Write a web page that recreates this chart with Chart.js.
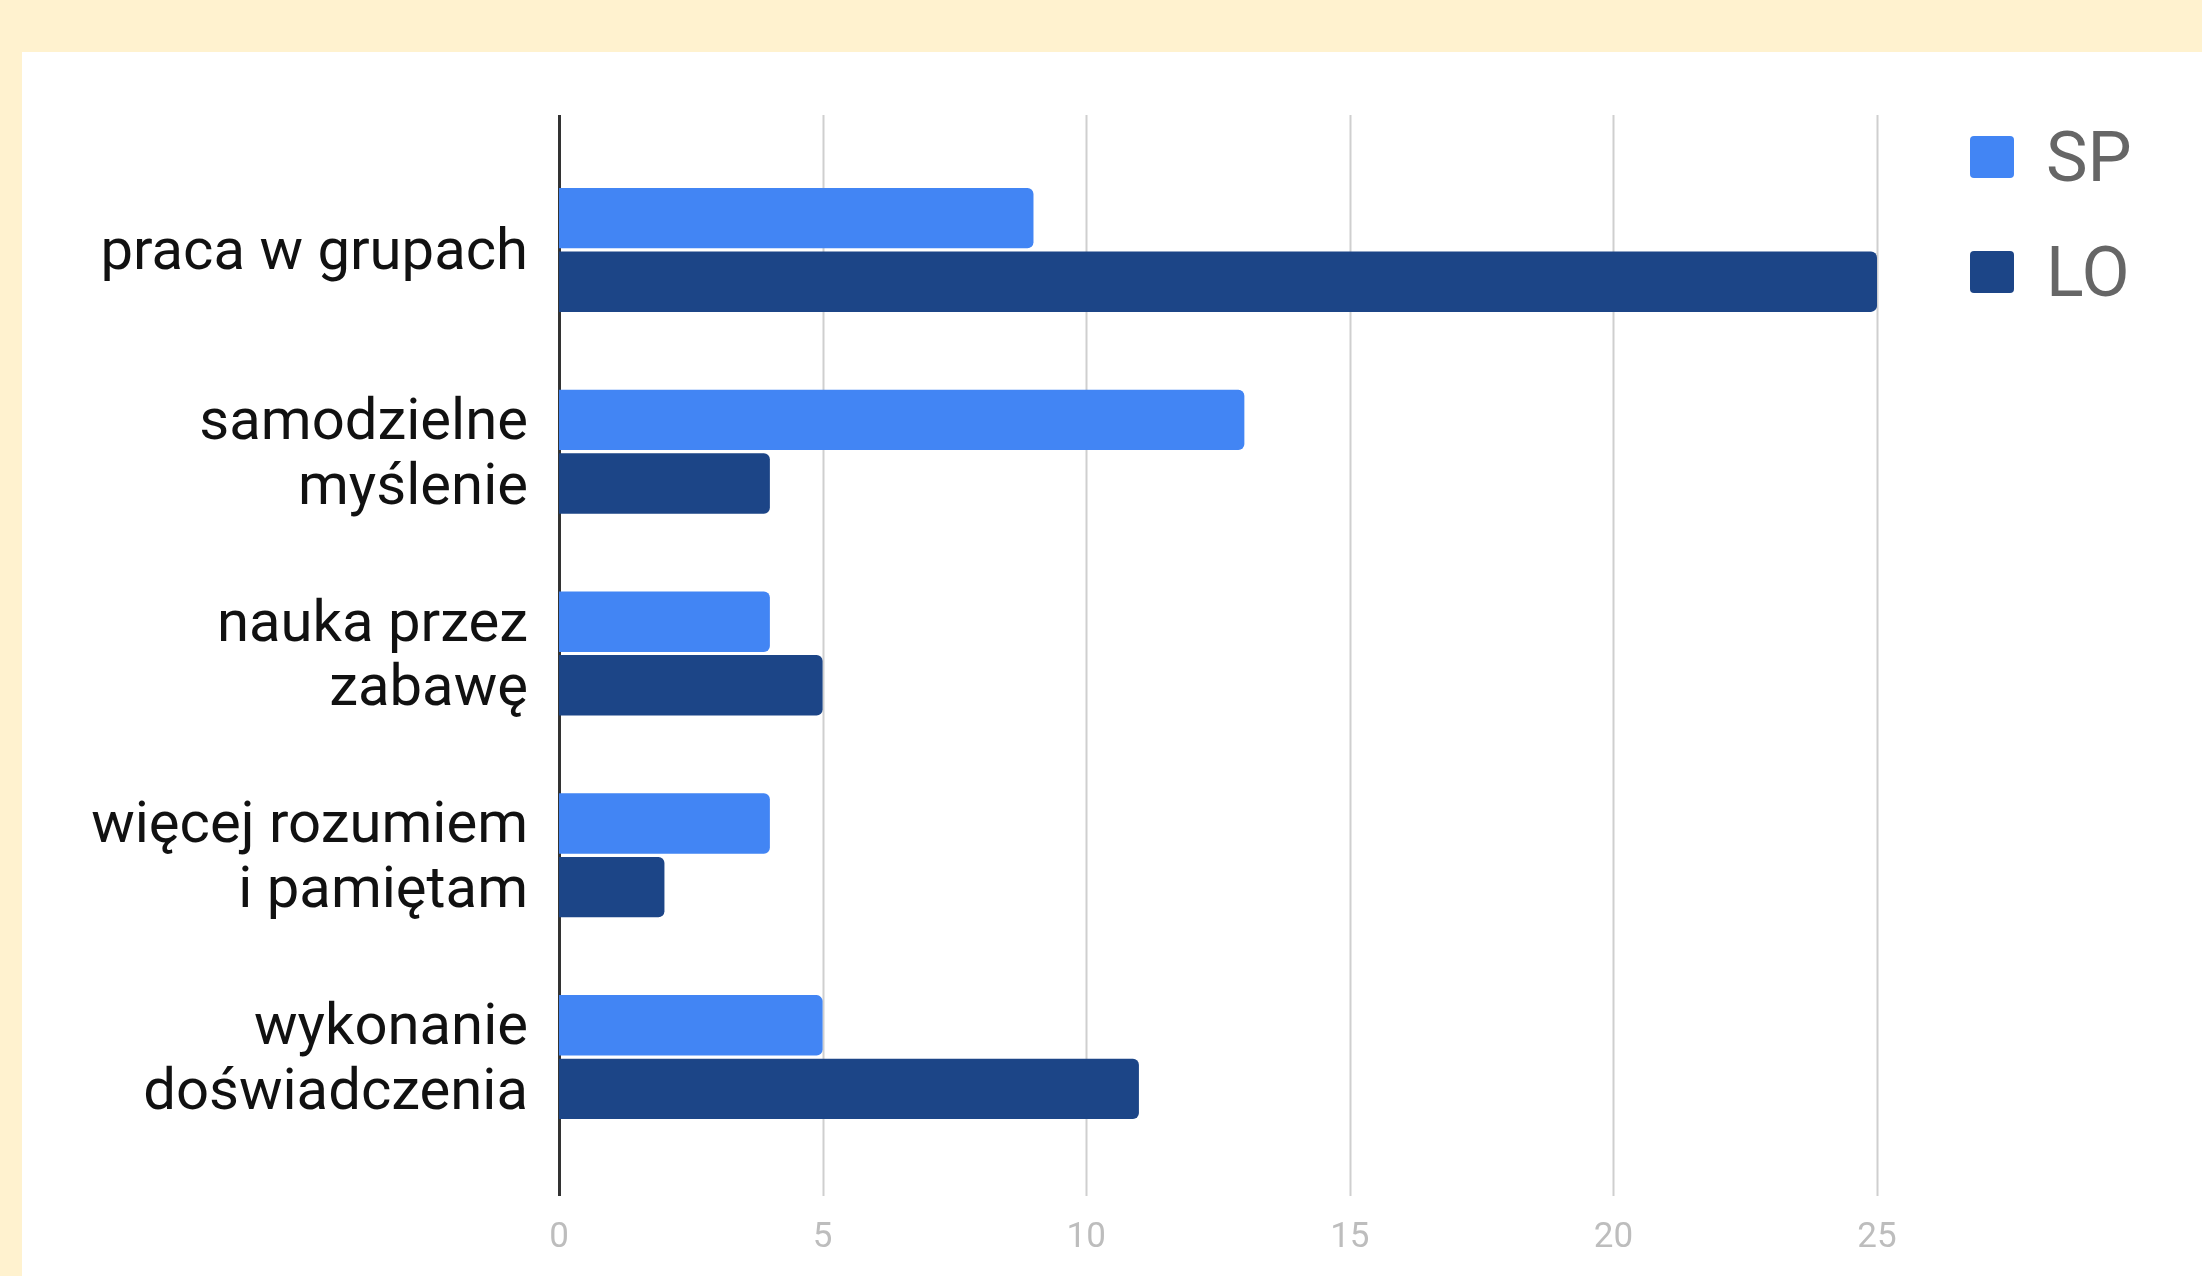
<!DOCTYPE html>
<html>
<head>
<meta charset="utf-8">
<script src="https://cdn.jsdelivr.net/npm/chart.js@4"></script>
<style>
  html, body { margin: 0; padding: 0; }
  body { width: 2202px; height: 1276px; background: #fff2cf; position: relative; overflow: hidden; }
  #panel { position: absolute; left: 22px; top: 52px; width: 2180px; height: 1224px; background: #fff; }
</style>
</head>
<body>
<div id="panel"><canvas id="methodsChart" width="2180" height="1224"></canvas></div>
<script>
// categories and counts per school level
const categories = [
  'praca w grupach',
  ['samodzielne', 'myślenie'],
  ['nauka przez', 'zabawę'],
  ['więcej rozumiem', 'i pamiętam'],
  ['wykonanie', 'doświadczenia']
];
const seriesNames = ['SP', 'LO'];
const seriesColors = ['#4285f4', '#1c4587'];
const spValues = [9, 13, 4, 4, 5];
const loValues = [25, 4, 5, 2, 11];
const xTicks = [0, 5, 10, 15, 20, 25];

// grid lines run a bit past the category bands, google-charts style
const gridLines = {
  id: 'gridLines',
  beforeDatasetsDraw(chart) {
    const { ctx, chartArea, scales: { x } } = chart;
    const top = chartArea.top - 34;
    const bottom = chartArea.bottom + 38;
    ctx.save();
    xTicks.forEach(v => {
      const px = Math.round(x.getPixelForValue(v)) + 0.5;
      ctx.beginPath();
      ctx.strokeStyle = v === 0 ? '#333333' : '#cfcfcf';
      ctx.lineWidth = v === 0 ? 3 : 2;
      ctx.moveTo(px, top);
      ctx.lineTo(px, bottom);
      ctx.stroke();
    });
    ctx.restore();
  }
};

const sideLegend = {
  id: 'sideLegend',
  afterDraw(chart) {
    const { ctx } = chart;
    ctx.save();
    ctx.font = '70px Roboto';
    ctx.textBaseline = 'middle';
    chart.data.datasets.forEach((ds, i) => {
      const cy = 105 + i * 115;
      ctx.fillStyle = ds.backgroundColor;
      ctx.beginPath();
      ctx.roundRect(1948, cy - 21, 44, 42, 4);
      ctx.fill();
      ctx.fillStyle = '#666666';
      ctx.fillText(ds.label, 2024, cy + 6);
    });
    ctx.restore();
  }
};

const ctx = document.getElementById('methodsChart').getContext('2d');
new Chart(ctx, {
  type: 'bar',
  data: {
    labels: categories,
    datasets: [
      { label: seriesNames[0], data: spValues, backgroundColor: seriesColors[0] },
      { label: seriesNames[1], data: loValues, backgroundColor: seriesColors[1] }
    ]
  },
  options: {
    indexAxis: 'y',
    responsive: false,
    animation: false,
    layout: { padding: { top: 97, right: 325, left: 0, bottom: 0 } },
    datasets: {
      bar: { categoryPercentage: 0.63, barPercentage: 0.95, borderRadius: 6, borderSkipped: 'start' }
    },
    plugins: {
      legend: { display: false },
      tooltip: { enabled: false }
    },
    scales: {
      x: {
        min: 0,
        max: 25,
        afterFit(scale) { scale.height = 118; },
        afterBuildTicks(scale) { scale.ticks = xTicks.map(v => ({ value: v })); },
        grid: { display: false, drawTicks: false },
        border: { display: false },
        ticks: { color: '#bdbdbd', font: { family: 'Roboto', size: 35 }, padding: 59 }
      },
      y: {
        afterFit(scale) { scale.width = 537; },
        grid: { display: false, drawTicks: false },
        border: { display: false },
        ticks: {
          color: '#111111',
          padding: 31,
          labelOffset: 5,
          font: { family: 'Roboto', size: 58, lineHeight: 1.12 }
        }
      }
    }
  },
  plugins: [gridLines, sideLegend]
});
</script>
</body>
</html>
